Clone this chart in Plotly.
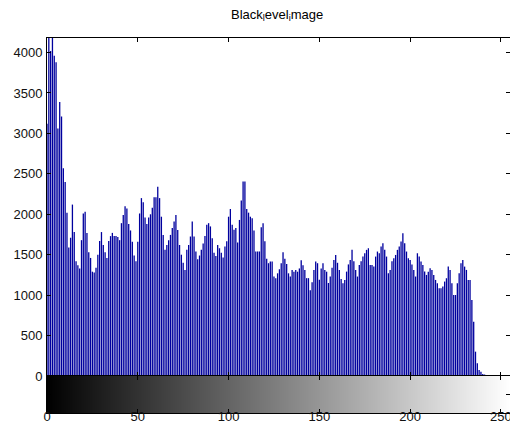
import plotly.graph_objects as go

# Histogram counts for gray levels 0..255
counts = [
    3120, 4180, 4020, 4180, 3960, 3880, 3060, 3390, 3210, 2570,
    2400, 2020, 1590, 1710, 2120, 1780, 1420, 1370, 1330, 1680,
    2010, 2030, 1770, 1530, 1460, 1290, 1280, 1340, 1500, 1670,
    1780, 1620, 1530, 1460, 1670, 1730, 1770, 1730, 1730, 1720,
    1680, 1890, 1990, 2100, 2070, 1880, 1800, 1660, 1490, 1420,
    1660, 2010, 2200, 2150, 1960, 1880, 1960, 2000, 2080, 2210,
    2210, 2340, 2200, 1970, 1745, 1560, 1620, 1680, 1745, 1830,
    1910, 1990, 1805, 1620, 1500, 1400, 1310, 1560, 1620, 1725,
    1910, 1725, 1540, 1445, 1490, 1560, 1640, 1730, 1870, 1890,
    1850, 1705, 1525, 1485, 1620, 1580, 1525, 1465, 1600, 1665,
    1970, 2065, 1870, 1810, 1830, 1650, 1930, 2170, 2405, 2405,
    2065, 2020, 1970, 1950, 1800, 1540, 1540, 1540, 1840, 1890,
    1665, 1450, 1395, 1415, 1415, 1230, 1210, 1270, 1320, 1395,
    1530, 1450, 1385, 1270, 1230, 1310, 1290, 1310, 1290, 1330,
    1430, 1370, 1310, 1210, 1210, 1060, 1160, 1310, 1415, 1395,
    1190, 1330, 1395, 1310, 1290, 1150, 1230, 1340, 1436, 1497,
    1400, 1312, 1200, 1147, 1188, 1291, 1380, 1436, 1560, 1420,
    1312, 1230, 1374, 1420, 1477, 1518, 1560, 1580, 1374, 1374,
    1353, 1477, 1539, 1518, 1601, 1642, 1560, 1477, 1271, 1312,
    1420, 1456, 1497, 1560, 1601, 1663, 1766, 1642, 1539, 1456,
    1436, 1380, 1312, 1230, 1518, 1477, 1415, 1374, 1291, 1250,
    1290, 1333, 1312, 1250, 1188, 1147, 1085, 1085, 1106, 1168,
    1209, 1353, 1312, 1147, 1002, 1002, 1147, 1271, 1395, 1436,
    1353, 1312, 1188, 1188, 940, 672, 301, 157, 74, 54,
    25, 18, 12, 10, 10, 12, 10, 8, 5, 3,
    2, 0, 0, 0, 0, 0,
]
levels = list(range(256))
x_ticks = [0, 50, 100, 150, 200, 250]
y_ticks = [0, 500, 1000, 1500, 2000, 2500, 3000, 3500, 4000]
title_text = "Black<sub>l</sub>evel<sub>i</sub>mage"

FONT = "Liberation Sans, Arial, sans-serif"

# stem plot (like MATLAB imhist): one vertical line per gray level
stem_x, stem_y = [], []
for lv, c in zip(levels, counts):
    stem_x += [lv, lv, None]
    stem_y += [0, c, None]

fig = go.Figure()
fig.add_trace(go.Scatter(
    x=stem_x, y=stem_y, mode="lines",
    line=dict(color="#00009e", width=1.3),
    xaxis="x", yaxis="y", showlegend=False, hoverinfo="skip",
))
fig.add_trace(go.Heatmap(
    x=levels, y=[0], z=[levels],
    colorscale=[[0, "black"], [1, "white"]],
    showscale=False, xaxis="x2", yaxis="y2", hoverinfo="skip",
))

H = 423
top, bottom = 38, 10
plot_h = H - top - bottom
split = (413 - 376) / plot_h

axis_common = dict(
    showline=True, linecolor="black", linewidth=1, mirror="allticks",
    ticks="inside", ticklen=4, tickcolor="black", showgrid=False,
    zeroline=False, automargin=False, ticklabeloverflow="allow",
    tickfont=dict(family=FONT, size=13, color="#111"),
)

fig.update_layout(
    width=510, height=H,
    margin=dict(l=47, r=0, t=top, b=bottom, autoexpand=False),
    paper_bgcolor="white", plot_bgcolor="white",
    title=dict(text=title_text, x=0.497, xanchor="center", xref="paper",
               y=1 - 14 / H, yanchor="middle",
               font=dict(family=FONT, size=13, color="black")),
    xaxis=dict(domain=[0, 1], range=[0, 255], anchor="y",
               tickvals=x_ticks, showticklabels=False, **axis_common),
    yaxis=dict(domain=[split, 1], range=[0, 4180], anchor="x",
               tickvals=y_ticks, ticklabelstandoff=1, **axis_common),
    xaxis2=dict(domain=[0, 1], range=[0, 255], anchor="y2",
                tickvals=x_ticks, ticklabelstandoff=-9, **axis_common),
    yaxis2=dict(domain=[0, split], range=[-0.5, 0.5], anchor="x2",
                showticklabels=False, tickvals=[0], **axis_common),
)

fig.write_html("out.html")
